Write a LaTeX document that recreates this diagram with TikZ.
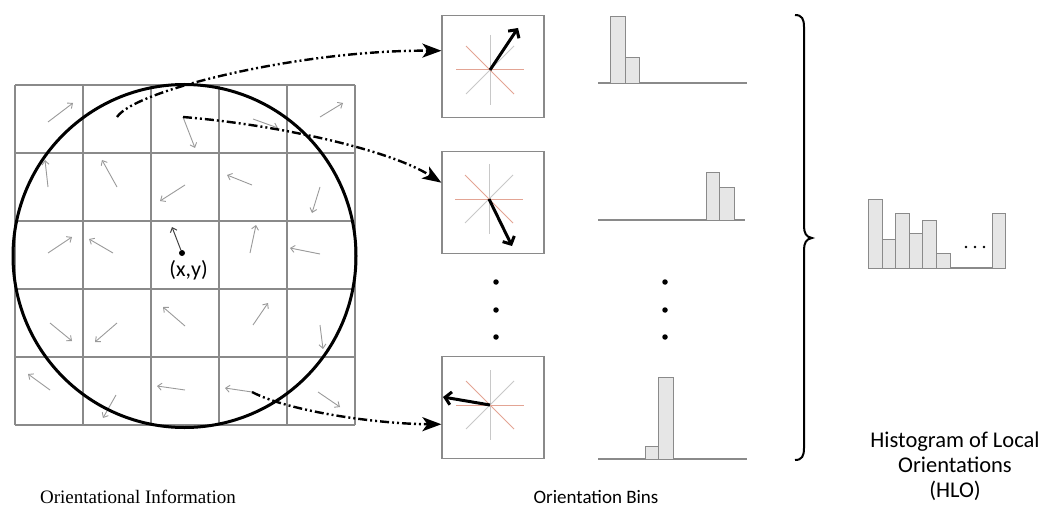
\documentclass[tikz,border=0pt]{standalone}
\usepackage{fontspec}
\setmainfont{Liberation Serif}
\newfontfamily\calfont{Carlito}
\usetikzlibrary{arrows.meta}
\definecolor{gridgray}{HTML}{8A8A8A}
\definecolor{arrgray}{HTML}{9A9A9A}
\definecolor{barfill}{HTML}{E6E6E6}
\definecolor{raygray}{HTML}{C8C8C8}
\definecolor{rayred}{HTML}{E3A494}
\begin{document}
\begin{tikzpicture}[x=1pt,y=-1pt,
  gridline/.style={draw=gridgray, line width=1.3pt},
  cellarrow/.style={draw=arrgray, line width=0.9pt, -{Straight Barb[length=4pt,width=7pt]}},
  link/.style={line width=2.4pt, dash pattern=on 9pt off 3pt on 2pt off 3pt on 2pt off 3pt, -{Stealth[length=19pt,width=14pt,inset=5pt]}},
  binbox/.style={draw=gridgray, line width=1.2pt, minimum size=102pt, inner sep=0pt},
  ray/.style={draw=raygray, line width=1pt},
  redray/.style={draw=rayred, line width=1pt},
  bigarrow/.style={line width=3pt, -{Straight Barb[length=6pt,width=13pt]}},
  histbar/.style={draw=gridgray, fill=barfill, line width=0.9pt},
  hbase/.style={draw=gridgray, line width=1.5pt},
  bigdot/.style={circle, fill=black, inner sep=0pt, minimum size=5.5pt},
  smalldot/.style={circle, fill=black, inner sep=0pt, minimum size=2.6pt},
  captext/.style={font=\calfont\fontsize{19}{23}\selectfont, align=center, inner sep=0pt},
]
\useasboundingbox (0,0) rectangle (1051,513);

% ---------- grid ----------
\foreach \x in {15,83,151,219,287,355} \draw[gridline] (\x,85) -- (\x,425);
\foreach \y in {85,153,221,289,357,425} \draw[gridline] (15,\y) -- (355,\y);

% ---------- cell arrows ----------
\foreach \a/\b/\c/\d in {
  48/122/73/103, 183/117/195/148, 253/119/278/128, 320/117/343/103,
  48/187/45/160, 117/187/102/160, 185/185/160/201, 252/185/227/175, 320/187/312/213,
  48/253/72/237, 113/253/89/239, 250/253/256/225, 320/254/290/248,
  50/323/72/341, 117/323/95/342, 185/326/163/307, 253/325/268/303, 320/325/323/349,
  50/390/28/374, 116/395/103/418, 185/390/157/386, 252/392/225/388, 318/392/340/407}
  \draw[cellarrow] (\a,\b) -- (\c,\d);

% ---------- circle and centre ----------
\node[circle, draw, line width=3pt, minimum size=343pt, inner sep=0pt] (roi) at (184.5,256) {};
\node[circle, fill=black, inner sep=0pt, minimum size=6pt] (xy) at (182,253) {};
\coordinate (xyhead) at (172,227);
\draw[line width=1pt, draw=black!75, -{Straight Barb[length=4pt,width=7pt]}] (xy) -- (xyhead);
\node[captext, font=\calfont\fontsize{22}{24}\selectfont] (xylab) at (188.5,270) {(x,y)};

% ---------- orientation bin boxes ----------
\node[binbox] (bin1) at (493,66.5) {};
\node[binbox] (bin2) at (493,202.5) {};
\node[binbox] (bin3) at (493,407.5) {};

\foreach \cx/\cy [count=\i] in {490/70, 489/199, 490/405} {
  \coordinate (c\i) at (\cx,\cy);
  \draw[ray] (\cx,\cy-35) -- (\cx,\cy+35);
  \draw[ray] (\cx+24,\cy-24) -- (\cx-24,\cy+24);
  \draw[redray] (\cx-34,\cy) -- (\cx+34,\cy);
  \draw[redray] (\cx-24,\cy-24) -- (\cx+24,\cy+24);
}
\coordinate (t1) at (518,28);
\coordinate (t2) at (512,246);
\coordinate (t3) at (443,397);
\draw[bigarrow] (c1) -- (t1);
\draw[bigarrow] (c2) -- (t2);
\draw[bigarrow] (c3) -- (t3);

% vertical dots
\foreach \y [count=\i] in {282,310,337} {
  \node[bigdot] (ld\i) at (496,\y) {};
  \node[bigdot] (rd\i) at (665,\y) {};
}

% ---------- connectors ----------
\coordinate (s1) at (117,117);
\coordinate (s2) at (183,117);
\coordinate (s3) at (252,392);
\draw[link] (s1) .. controls (135,90) and (300,50) .. (bin1.163);
\draw[link] (s2) .. controls (280,125) and (390,150) .. (bin2.159);
\draw[link] (s3) .. controls (290,412) and (380,424) .. (bin3.198);

% ---------- small histograms ----------
\draw[hbase] (598,83) -- (747,83);
\draw[histbar] (610,16) rectangle (625,83);
\draw[histbar] (625,57) rectangle (639,83);

\draw[hbase] (598,220) -- (745,220);
\draw[histbar] (706,172) rectangle (719,220);
\draw[histbar] (719,187) rectangle (734,220);

\draw[hbase] (598,459) -- (747,459);
\draw[histbar] (645,446) rectangle (658,459);
\draw[histbar] (658,377) rectangle (673,459);

% ---------- brace ----------
\draw[line width=2pt] (795,15) .. controls (802,15) and (804,19) .. (804,27)
  -- (804,226) .. controls (804,233) and (806,237) .. (812,238)
  .. controls (806,239) and (804,243) .. (804,250)
  -- (804,448) .. controls (804,456) and (802,460) .. (795,460);

% ---------- HLO histogram ----------
\draw[hbase] (868,268) -- (1005,268);
\foreach \l/\r/\t in {868/882/199, 882/895/239, 895/909/213, 909/922/233, 922/936/220, 936/950/253, 992/1005/213}
  \draw[histbar] (\l,\t) rectangle (\r,268);
\foreach \x [count=\i] in {966,975,984} \node[smalldot] (hd\i) at (\x,247) {};

% ---------- captions ----------
\node[inner sep=0pt, font=\fontsize{19}{23}\selectfont] (cap1) at (138,497) {Orientational Information};
\node[captext] (cap2) at (596,497) {Orientation Bins};
\node[captext, font=\calfont\fontsize{22.5}{25}\selectfont] (cap3) at (955,466) {Histogram of Local\\Orientations\\(HLO)};
\end{tikzpicture}
\end{document}
